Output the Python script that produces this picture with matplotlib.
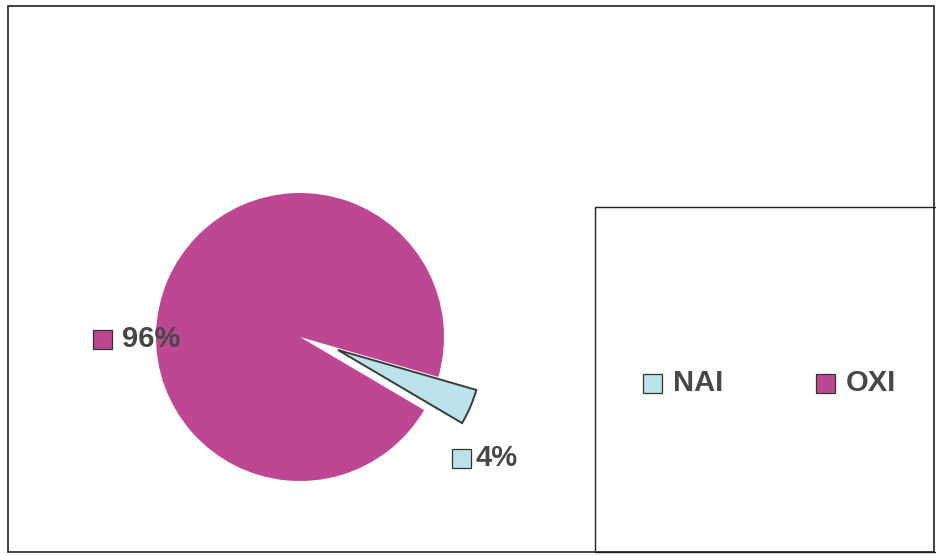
import matplotlib.pyplot as plt
from matplotlib.patches import Rectangle

# share of each class
categories = ["NAI", "OXI"]
shares = [4, 96]
colors = ["#BCE3EA", "#BE4794"]

W, H = 936, 556
fig = plt.figure(figsize=(W / 100, H / 100), dpi=100)
fig.patch.set_facecolor("white")

# outer chart frame
fig.add_artist(Rectangle((8 / W, 4 / H), 926 / W, 546 / H, transform=fig.transFigure,
                         fill=False, edgecolor="#222222", linewidth=1.2))

# pie area
cx, cy, r = 300, H - 337, 144
half = 200
ax = fig.add_axes([(cx - half) / W, (cy - half) / H, 2 * half / W, 2 * half / H])
wedges, _ = ax.pie(shares, colors=colors, startangle=-30.5, counterclock=True,
                   radius=r / half,
                   wedgeprops=dict(edgecolor="#444444", linewidth=0.6))
wedges[1].set_edgecolor("none")
# pull the small slice out of the pie
wedges[0].set_center((38 / half, -13 / half))
wedges[0].set_linewidth(1.4)
wedges[0].set_edgecolor("#3a3a3a")
ax.set_xlim(-1, 1)
ax.set_ylim(-1, 1)
ax.set_aspect("equal")


def keyed_text(x, y, text, color, gap=10):
    # small colour square followed by bold grey text
    s = 19
    fig.add_artist(Rectangle((x / W, (H - y - s / 2) / H), s / W, s / H,
                             transform=fig.transFigure, facecolor=color,
                             edgecolor="#333333", linewidth=0.9))
    fig.text((x + s + gap) / W, (H - y) / H, text, fontsize=21, fontweight="bold",
             color="#474747", va="center", ha="left", family="Liberation Sans")


# data labels
keyed_text(93, 339, f"{shares[1]}%", colors[1])
keyed_text(452, 458, f"{shares[0]}%", colors[0], gap=5)

# legend box
fig.add_artist(Rectangle((595 / W, 4 / H), 345 / W, (552 - 207) / H, transform=fig.transFigure,
                         fill=False, edgecolor="#222222", linewidth=1.0))
for name, color, x in zip(categories, colors, [643, 816]):
    keyed_text(x, 383, name, color, gap=11)

fig.savefig("out.png", dpi=100, facecolor="white")
